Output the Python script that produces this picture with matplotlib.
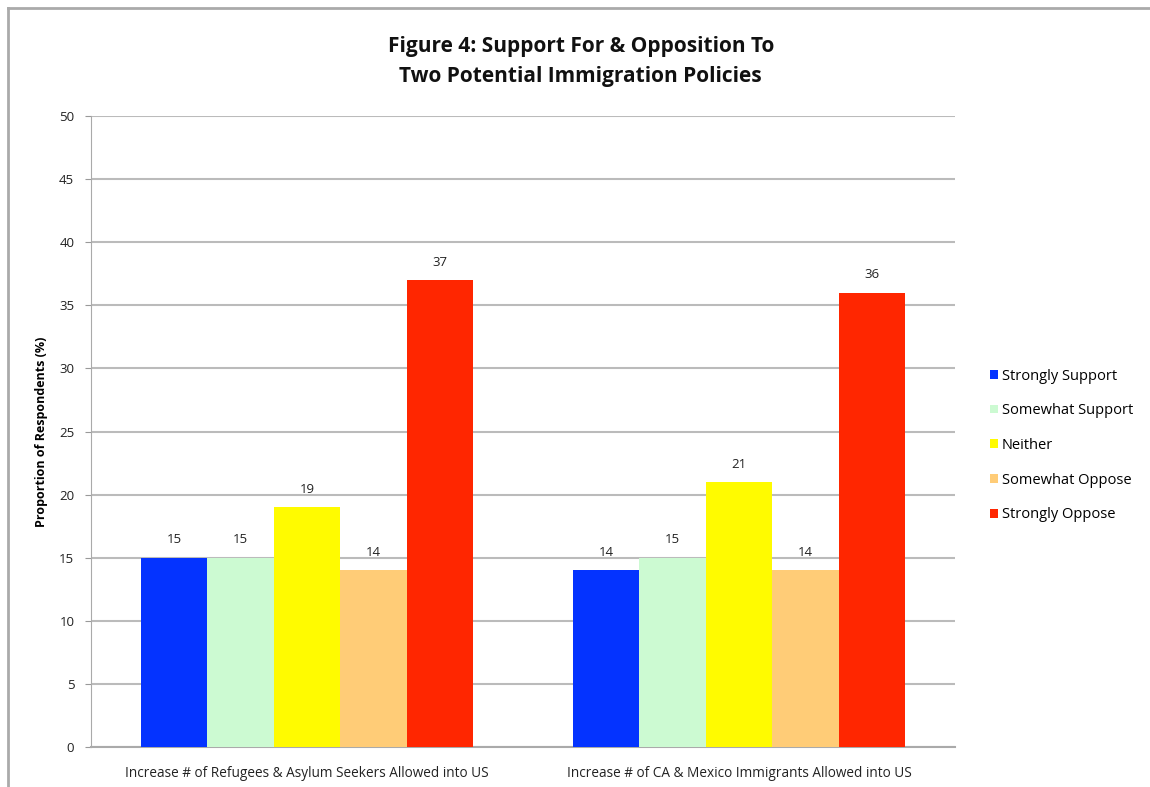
import matplotlib.pyplot as plt
import numpy as np
from matplotlib.lines import Line2D

policies = ['Increase # of Refugees & Asylum Seekers Allowed into US',
            'Increase # of CA & Mexico Immigrants Allowed into US']
responses = ['Strongly Support', 'Somewhat Support', 'Neither',
             'Somewhat Oppose', 'Strongly Oppose']
refugees = [15, 15, 19, 14, 37]
ca_mexico = [14, 15, 21, 14, 36]
colors = ['#0433FF', '#CCFAD2', '#FFFB00', '#FFCC77', '#FF2600']

plt.rcParams['font.family'] = ['Open Sans', 'DejaVu Sans']

fig = plt.figure(figsize=(11.5, 7.87), dpi=100)
ax = fig.add_axes([0.0791, 0.0508, 0.7513, 0.8018])

x = np.arange(len(policies))
group_w = 0.77
bar_w = group_w / len(responses)
values = np.array([refugees, ca_mexico])

for i, (resp, col) in enumerate(zip(responses, colors)):
    pos = x - group_w / 2 + bar_w * (i + 0.5)
    bars = ax.bar(pos, values[:, i], bar_w, color=col, label=resp, zorder=3)
    for b, v in zip(bars, values[:, i]):
        ax.text(b.get_x() + b.get_width() / 2, v + 0.9, f'{v}',
                ha='center', va='bottom', fontsize=9.5, color='#222222')

ax.set_xlim(-0.5, 1.5)
ax.set_ylim(0, 50)
ax.set_yticks(range(0, 51, 5))
ax.set_xticks(x)
ax.set_xticklabels(policies, fontsize=9.8, color='#222222')
ax.tick_params(axis='y', labelsize=9.5, length=4, color='#999999',
               labelcolor='#222222', pad=8)
ax.tick_params(axis='x', length=0, pad=14)
ax.yaxis.grid(True, color='#BBBBBB', linewidth=1.5, zorder=0)
for s in ['top', 'right']:
    ax.spines[s].set_visible(False)
ax.spines['left'].set_color('#AAAAAA')
ax.spines['bottom'].set_color('#AAAAAA')
ax.spines['bottom'].set_linewidth(1.5)

ax.set_ylabel('Proportion of Respondents (%)', fontsize=9, fontweight='bold',
              labelpad=8)

fig.text(0.505, 0.922, 'Figure 4: Support For & Opposition To\nTwo Potential Immigration Policies',
         ha='center', va='center', fontsize=15, fontweight='bold',
         linespacing=1.6, color='#111111')

leg = ax.legend(loc='center left', bbox_to_anchor=(1.025, 0.478), frameon=False,
                fontsize=10.5, handlelength=0.55, handleheight=0.55,
                handletextpad=0.3, labelspacing=1.35)

# frame around the chart area
fig.add_artist(Line2D([8 / 1150, 8 / 1150], [0, 1 - 8 / 787],
                      transform=fig.transFigure, color='#AAAAAA', linewidth=2))
fig.add_artist(Line2D([8 / 1150, 1], [1 - 8 / 787, 1 - 8 / 787],
                      transform=fig.transFigure, color='#AAAAAA', linewidth=2))

plt.savefig('out.png', dpi=100)
